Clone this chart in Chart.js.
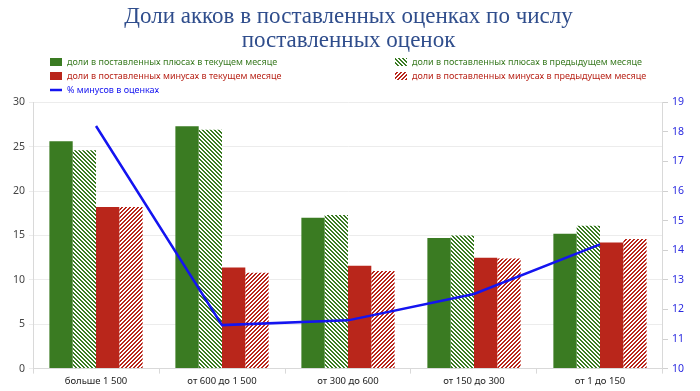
<!DOCTYPE html>
<html>
<head>
<meta charset="utf-8">
<script src="https://cdn.jsdelivr.net/npm/chart.js@4/dist/chart.umd.min.js"></script>
<style>
  body { margin: 0; background: #fff; }
  #wrap { width: 700px; height: 391px; }
</style>
</head>
<body>
<div id="wrap"><canvas id="chart" width="700" height="391"></canvas></div>
<script>
const categories = ['больше 1 500', 'от 600 до 1 500', 'от 300 до 600', 'от 150 до 300', 'от 1 до 150'];
const plusCurrent = [25.6, 27.3, 17.0, 14.7, 15.2];
const plusPrevious = [24.6, 26.9, 17.3, 15.0, 16.1];
const minusCurrent = [18.2, 11.4, 11.6, 12.5, 14.2];
const minusPrevious = [18.2, 10.8, 11.0, 12.4, 14.6];
const minusPercent = [18.2, 11.47, 11.63, 12.52, 14.2];
const leftTicks = [0, 5, 10, 15, 20, 25, 30];
const rightTicks = [10, 11, 12, 13, 14, 15, 16, 17, 18, 19];

const green = '#3a7b22';
const red = '#b9261b';
const blue = '#1414f0';

// diagonal stripes on white, dir 1 = "\", -1 = "/"
function hatch(color, dir) {
  const c = document.createElement('canvas');
  c.width = 4; c.height = 4;
  const g = c.getContext('2d');
  g.fillStyle = '#fff';
  g.fillRect(0, 0, 4, 4);
  g.fillStyle = color;
  for (let x = 0; x < 4; x++) {
    for (let y = 0; y < 4; y++) {
      const k = ((dir > 0 ? x - y : x + y) % 4 + 4) % 4;
      if (k < 2) g.fillRect(x, y, 1, 1);
    }
  }
  return document.getElementById('chart').getContext('2d').createPattern(c, 'repeat');
}

// two-column legend like the original
const legendPlugin = {
  id: 'twoColLegend',
  afterDraw(chart) {
    const ctx = chart.ctx;
    const spots = [[50, 62], [395, 62], [50, 76], [395, 76], [50, 90]];
    ctx.save();
    ctx.font = '9px "Noto Sans"';
    ctx.textBaseline = 'middle';
    chart.data.datasets.forEach((ds, i) => {
      const [x, y] = spots[i];
      if (ds.type === 'line') {
        ctx.strokeStyle = ds.borderColor;
        ctx.lineWidth = 2.5;
        ctx.beginPath();
        ctx.moveTo(x, y); ctx.lineTo(x + 12, y);
        ctx.stroke();
      } else {
        ctx.fillStyle = ds.backgroundColor;
        ctx.fillRect(x, y - 4, 12, 8);
      }
      ctx.fillStyle = ds.textColor;
      ctx.fillText(ds.label, x + 17, y);
    });
    ctx.restore();
  }
};

const ctx = document.getElementById('chart').getContext('2d');
const chart = new Chart(ctx, {
  data: {
    labels: categories,
    datasets: [
      { type: 'bar', label: 'доли в поставленных плюсах в текущем месяце', data: plusCurrent,
        backgroundColor: green, textColor: green, yAxisID: 'y', order: 1 },
      { type: 'bar', label: 'доли в поставленных плюсах в предыдущем месяце', data: plusPrevious,
        backgroundColor: hatch(green, 1), textColor: green, yAxisID: 'y', order: 1 },
      { type: 'bar', label: 'доли в поставленных минусах в текущем месяце', data: minusCurrent,
        backgroundColor: red, textColor: red, yAxisID: 'y', order: 1 },
      { type: 'bar', label: 'доли в поставленных минусах в предыдущем месяце', data: minusPrevious,
        backgroundColor: hatch(red, -1), textColor: red, yAxisID: 'y', order: 1 },
      { type: 'line', label: '% минусов в оценках', data: minusPercent,
        borderColor: blue, textColor: blue, borderWidth: 2.5, pointRadius: 0,
        tension: 0, yAxisID: 'y1', order: 0 }
    ]
  },
  options: {
    responsive: false,
    animation: false,
    layout: { padding: { left: 9, right: 12, bottom: 2 } },
    datasets: { bar: { barPercentage: 1, categoryPercentage: 0.74 } },
    plugins: {
      legend: { display: false },
      tooltip: { enabled: false },
      title: {
        display: true,
        text: ['Доли акков в поставленных оценках по числу', 'поставленных оценок'],
        color: '#2f4d8c',
        font: { family: '"Liberation Serif"', size: 23, weight: 'normal', lineHeight: 1.05 },
        padding: { top: 5, bottom: 49 }
      }
    },
    scales: {
      x: {
        grid: { drawOnChartArea: false, color: '#d9d9d9', tickLength: 5 },
        border: { color: '#d9d9d9' },
        ticks: { color: '#222', font: { family: '"Noto Sans"', size: 9.5 }, padding: 2 }
      },
      y: {
        position: 'left',
        min: 0, max: 30,
        afterBuildTicks: axis => { axis.ticks = leftTicks.map(v => ({ value: v })); },
        grid: { color: '#ececec', tickLength: 4 },
        border: { color: '#d9d9d9' },
        ticks: { color: '#444', font: { family: '"Noto Sans"', size: 10.5 }, padding: 4 }
      },
      y1: {
        position: 'right',
        min: 10, max: 19,
        afterBuildTicks: axis => { axis.ticks = rightTicks.map(v => ({ value: v })); },
        grid: { drawOnChartArea: false, color: '#d0d0d0', tickLength: 5 },
        border: { color: '#d9d9d9' },
        ticks: { color: '#2a2ae0', font: { family: '"Noto Sans"', size: 10.5 }, padding: 4 }
      }
    }
  },
  plugins: [legendPlugin]
});
</script>
</body>
</html>
